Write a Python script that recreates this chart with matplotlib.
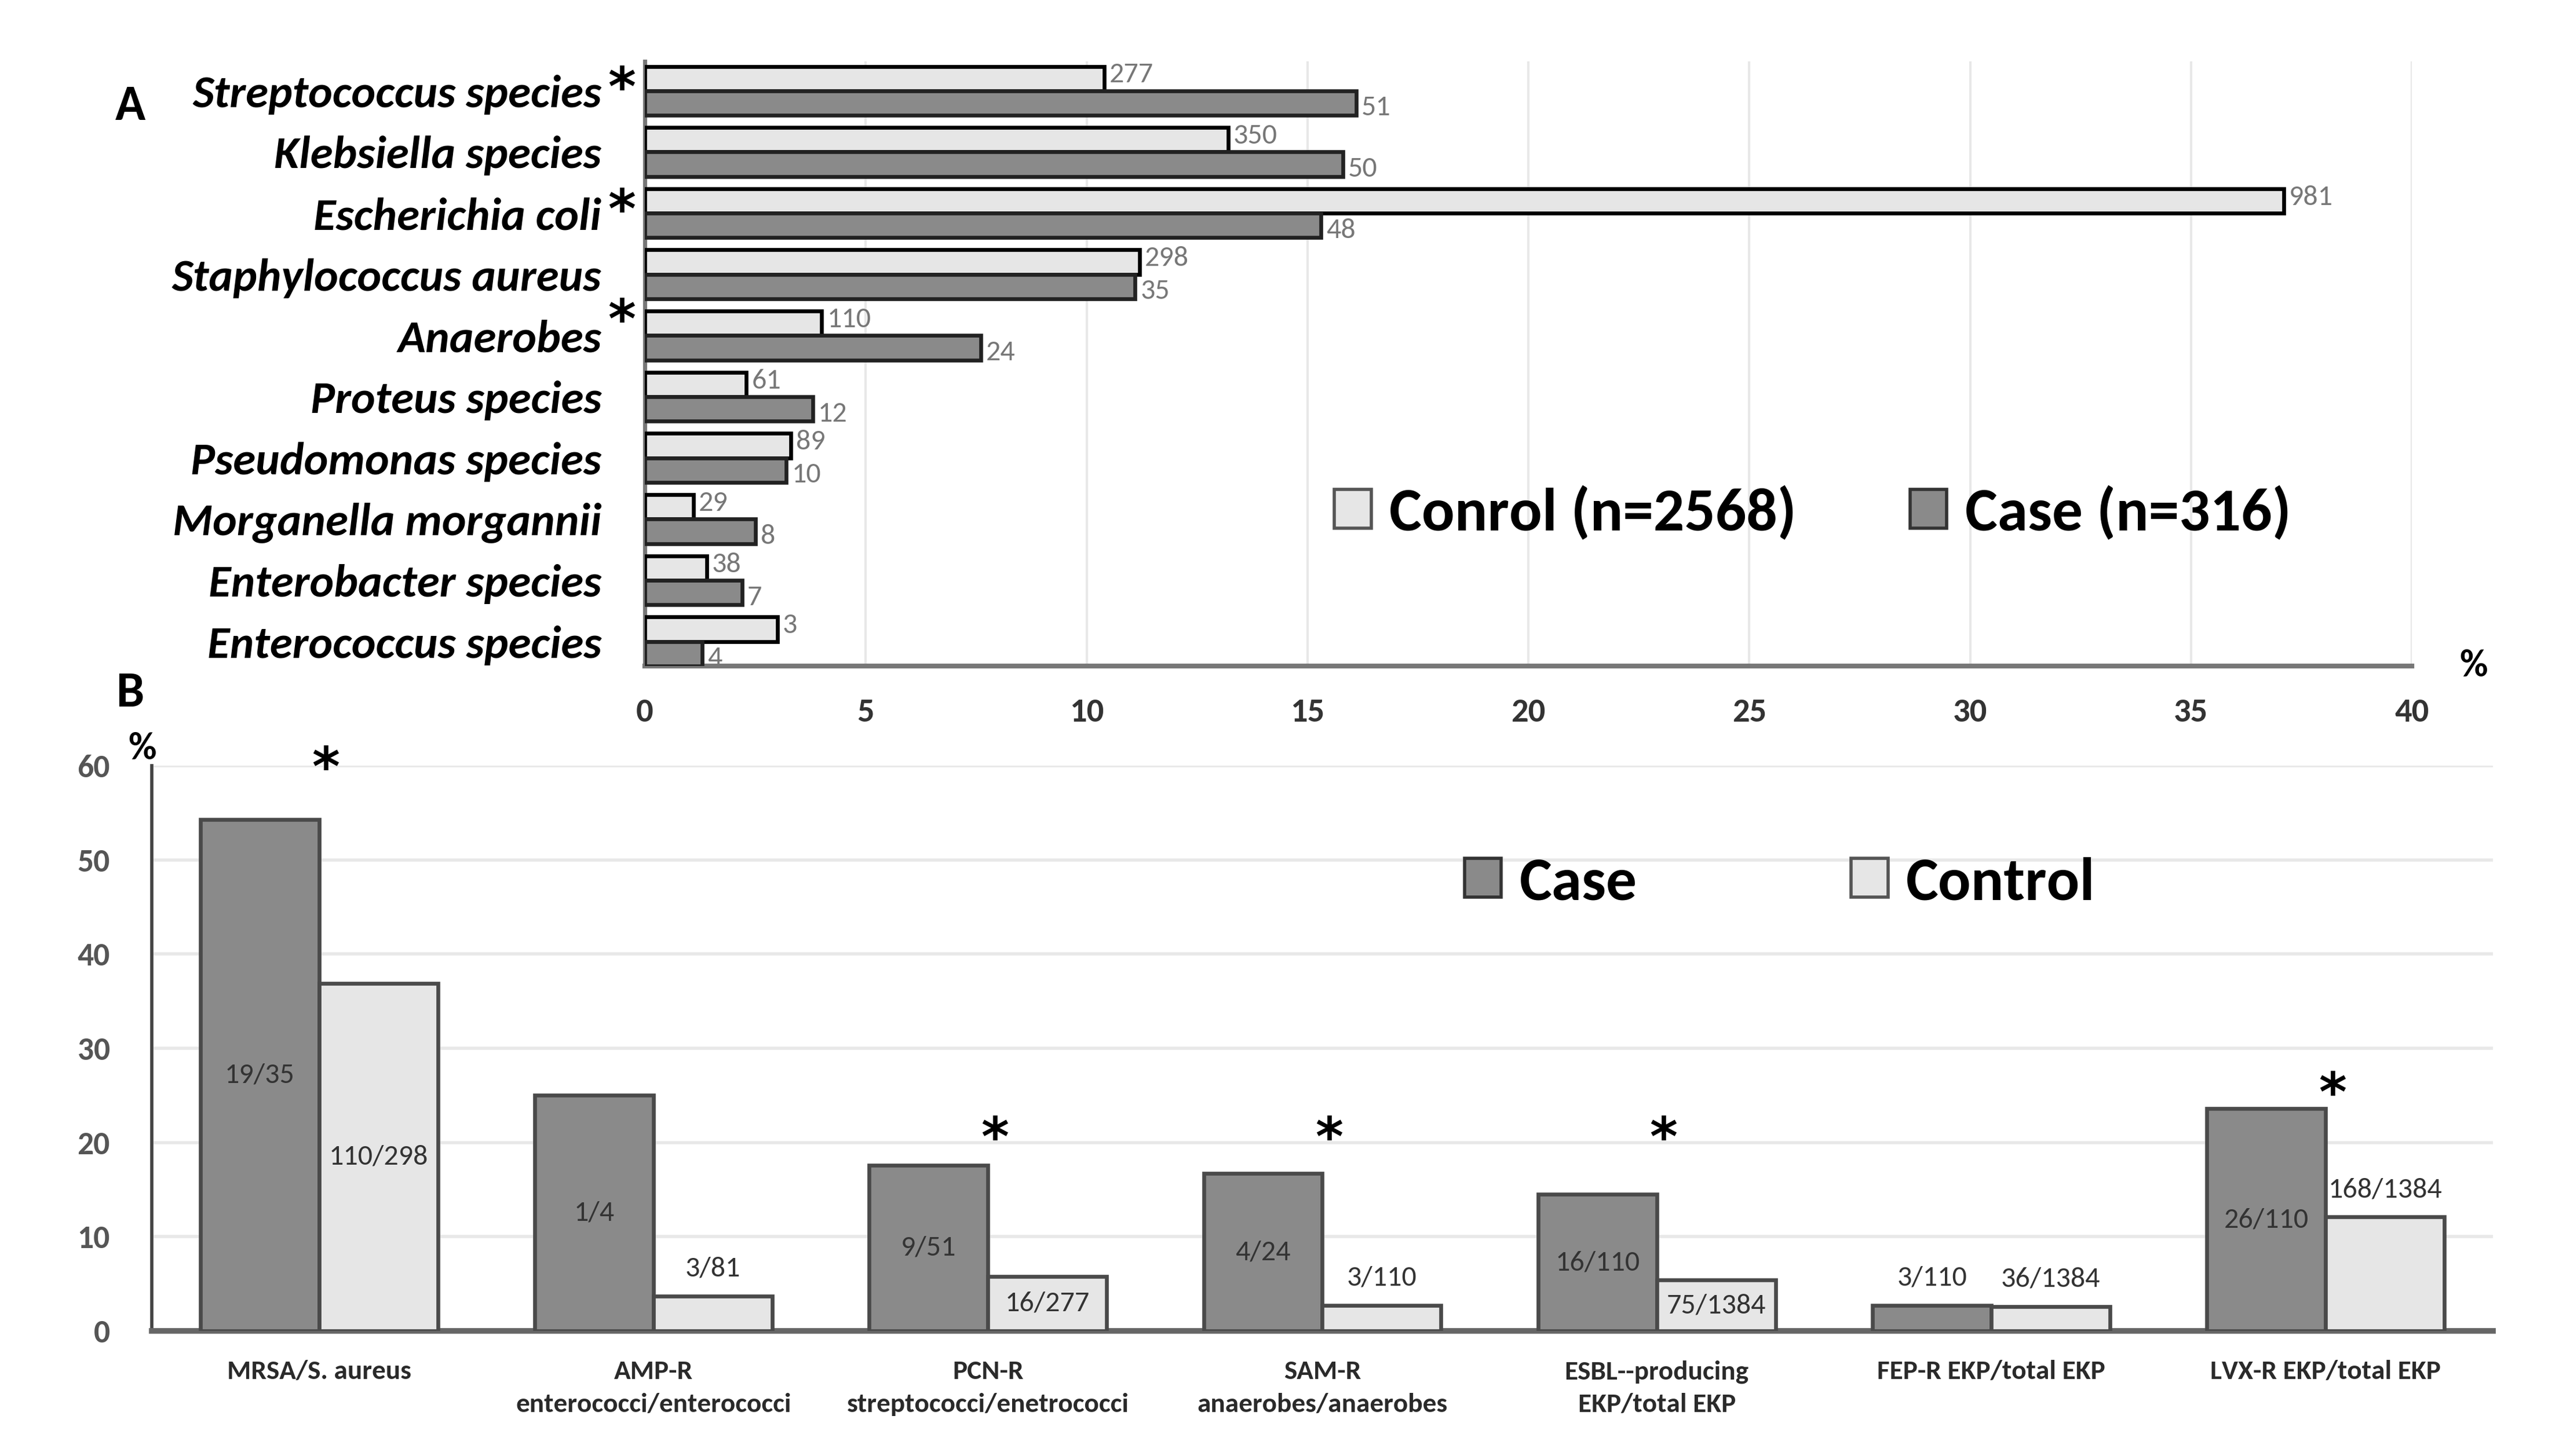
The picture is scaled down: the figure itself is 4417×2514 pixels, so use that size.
import matplotlib.pyplot as plt
import numpy as np
from matplotlib.patches import Patch

plt.rcParams['font.family'] = ['Carlito', 'PT Sans Narrow', 'DejaVu Sans']

# ---- panel A data (percent of isolates) ----
species = ['Streptococcus species', 'Klebsiella species', 'Escherichia coli',
           'Staphylococcus aureus', 'Anaerobes', 'Proteus species',
           'Pseudomonas species', 'Morganella morgannii', 'Enterobacter species',
           'Enterococcus species']
control_pct = [10.4, 13.2, 37.1, 11.2, 4.0, 2.3, 3.3, 1.1, 1.4, 3.0]
case_pct = [16.1, 15.8, 15.3, 11.1, 7.6, 3.8, 3.2, 2.5, 2.2, 1.3]
control_n = [277, 350, 981, 298, 110, 61, 89, 29, 38, 3]
case_n = [51, 50, 48, 35, 24, 12, 10, 8, 7, 4]
starred_species = ['Streptococcus species', 'Escherichia coli', 'Anaerobes']

# ---- panel B data (percent resistant) ----
resist = ['MRSA/S. aureus', 'AMP-R\nenterococci/enterococci',
          'PCN-R\nstreptococci/enetrococci', 'SAM-R\nanaerobes/anaerobes',
          'ESBL--producing\nEKP/total EKP', 'FEP-R EKP/total EKP',
          'LVX-R EKP/total EKP']
case_res = [54.3, 25.0, 17.6, 16.7, 14.5, 2.7, 23.6]
control_res = [36.9, 3.7, 5.8, 2.7, 5.4, 2.6, 12.1]
case_frac = ['19/35', '1/4', '9/51', '4/24', '16/110', '3/110', '26/110']
control_frac = ['110/298', '3/81', '16/277', '3/110', '75/1384', '36/1384', '168/1384']
res_starred = [True, False, True, True, True, False, True]

# label placement: inside the bar (mid-height) or above it
case_inside = [True, True, True, True, True, False, True]
control_inside = [True, False, True, False, True, False, False]

LIGHT = '#e6e6e6'
DARK = '#8a8a8a'
STAR_FONT = 33


def star(ax, x, y, transform=None):
    # glyph centred on (x, y)
    ax.annotate('*', xy=(x, y), xycoords=transform or 'data',
                xytext=(0, -0.56 * STAR_FONT), textcoords='offset points',
                fontsize=STAR_FONT, fontweight='bold', family='DejaVu Sans',
                ha='center', va='baseline', annotation_clip=False)


fig = plt.figure(figsize=(22.085, 12.57), dpi=200)

# ================= panel A =================
axA = fig.add_axes([0.252, 0.5426, 0.6905, 0.4152])
pos = np.arange(len(species))[::-1]
h = 0.4
axA.barh(pos + h / 2, control_pct, height=h, color=LIGHT, edgecolor='black', linewidth=2.4, zorder=3)
axA.barh(pos - h / 2, case_pct, height=h, color=DARK, edgecolor='#222222', linewidth=2.4, zorder=3)
for p, v, n in zip(pos, control_pct, control_n):
    axA.text(v + 0.12, p + h / 2 + 0.06, str(n), fontsize=18, color='#777777', va='center', ha='left')
for p, v, n in zip(pos, case_pct, case_n):
    axA.text(v + 0.12, p - h / 2 - 0.08, str(n), fontsize=18, color='#777777', va='center', ha='left')

axA.set_xlim(0, 40)
axA.set_ylim(-0.4, 9.48)
axA.set_xticks(np.arange(0, 41, 5))
axA.set_xticklabels([str(t) for t in range(0, 41, 5)], fontsize=21, fontweight='bold', color='#333333')
axA.set_yticks(pos)
axA.set_yticklabels(species, fontsize=28.5, fontweight='bold', style='italic')
axA.tick_params(axis='x', length=0, pad=20)
axA.tick_params(axis='y', length=0, pad=27)
axA.grid(axis='x', color='#e8e8e8', linewidth=1.5, zorder=0)
for s in ['top', 'right']:
    axA.spines[s].set_visible(False)
axA.spines['bottom'].set_color('#777777')
axA.spines['bottom'].set_linewidth(3)
axA.spines['left'].set_color('#777777')
axA.spines['left'].set_linewidth(2.5)

ytr = axA.get_yaxis_transform()
for name in starred_species:
    p = pos[species.index(name)]
    dy = 0.45 if len(name) < 12 else 0.25
    star(axA, -0.013, p + dy, transform=ytr)

axA.text(1.035, 0.0, '%', transform=axA.transAxes, fontsize=24, fontweight='bold',
         ha='center', va='center')
axA.legend(handles=[Patch(facecolor=LIGHT, edgecolor='#555555', linewidth=2),
                    Patch(facecolor=DARK, edgecolor='#333333', linewidth=2)],
           labels=['Conrol (n=2568)', 'Case (n=316)'], ncol=2, frameon=False,
           prop={'size': 38, 'weight': 'bold'}, handlelength=0.6, handleheight=0.6,
           handletextpad=0.3, columnspacing=1.85, borderpad=0,
           loc='center left', bbox_to_anchor=(0.373, 0.254))

fig.text(0.051, 0.927, 'A', fontsize=31, fontweight='bold', ha='center', va='center')
fig.text(0.051, 0.524, 'B', fontsize=31, fontweight='bold', ha='center', va='center')

# ================= panel B =================
axB = fig.add_axes([0.0593, 0.0859, 0.9149, 0.3882])
x = np.arange(len(resist))
w = 0.355
axB.bar(x - w / 2, case_res, width=w, color=DARK, edgecolor='#4a4a4a', linewidth=2.4, zorder=3)
axB.bar(x + w / 2, control_res, width=w, color=LIGHT, edgecolor='#4a4a4a', linewidth=2.4, zorder=3)

for xi, v, t, inside in zip(x, case_res, case_frac, case_inside):
    y = v / 2 if inside else v + 2.9
    axB.text(xi - w / 2, y, t, fontsize=18, color='#333333', ha='center', va='center', zorder=4)
for xi, v, t, inside in zip(x, control_res, control_frac, control_inside):
    y = v / 2 if inside else v + 2.9
    axB.text(xi + w / 2, y, t, fontsize=18, color='#333333', ha='center', va='center', zorder=4)
for xi, v, s in zip(x, case_res, res_starred):
    if s:
        star(axB, xi + 0.02, max(v * 1.125, 21.8))

axB.set_xlim(-0.5, len(resist) - 0.5)
axB.set_ylim(0, 60)
axB.set_yticks(np.arange(0, 61, 10))
axB.set_yticklabels([str(t) for t in range(0, 61, 10)], fontsize=20, fontweight='bold', color='#555555')
axB.set_xticks(x)
axB.set_xticklabels(resist, fontsize=17, fontweight='bold', color='#2a2a2a', linespacing=1.5)
axB.tick_params(axis='x', length=0, pad=18)
axB.tick_params(axis='y', length=0, pad=26)
axB.grid(axis='y', color='#e8e8e8', linewidth=2, zorder=0)
for s in ['top', 'right']:
    axB.spines[s].set_visible(False)
axB.spines['bottom'].set_color('#666666')
axB.spines['bottom'].set_linewidth(3.5)
axB.spines['left'].set_color('#444444')
axB.spines['left'].set_linewidth(2)
axB.text(-0.004, 1.03, '%', transform=axB.transAxes, fontsize=24, fontweight='bold',
         ha='center', va='center')
axB.legend(handles=[Patch(facecolor=DARK, edgecolor='#333333', linewidth=2),
                    Patch(facecolor=LIGHT, edgecolor='#555555', linewidth=2)],
           labels=['Case', 'Control'], ncol=2, frameon=False,
           prop={'size': 38, 'weight': 'bold'}, handlelength=0.6, handleheight=0.6,
           handletextpad=0.3, columnspacing=3.5, borderpad=0,
           loc='center left', bbox_to_anchor=(0.5476, 0.793))

fig.savefig('out.png', dpi=200, facecolor='white')
